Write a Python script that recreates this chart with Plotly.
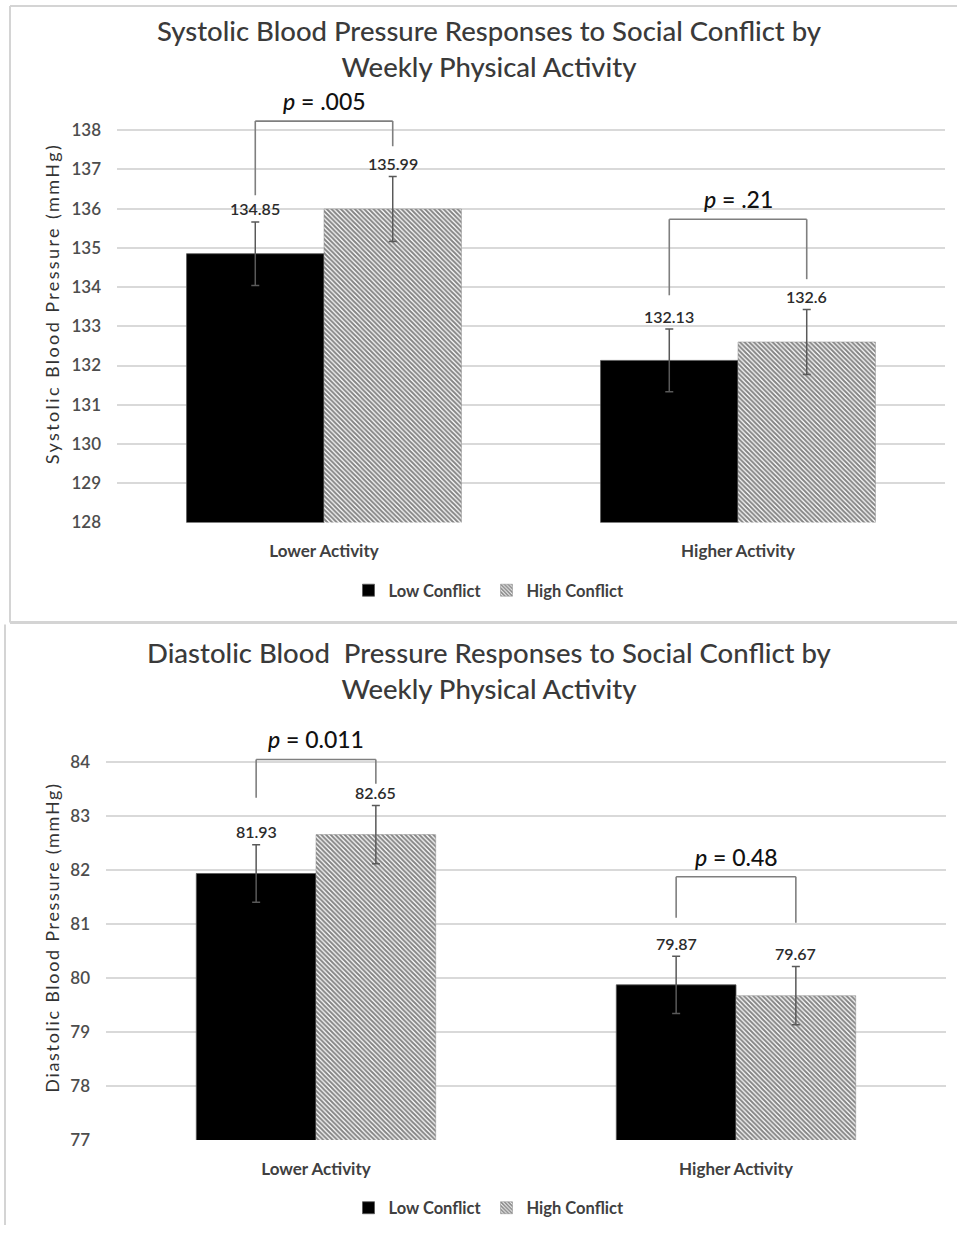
import plotly.graph_objects as go

# ---------------- data ----------------
categories = ["Lower Activity", "Higher Activity"]
series_names = ["Low Conflict", "High Conflict"]

sbp_low = [134.85, 132.13]
sbp_high = [135.99, 132.6]
sbp_low_err = [0.81, 0.80]
sbp_high_err = [0.83, 0.83]
sbp_p = [".005", ".21"]
sbp_ticks = [128, 129, 130, 131, 132, 133, 134, 135, 136, 137, 138]

dbp_low = [81.93, 79.87]
dbp_high = [82.65, 79.67]
dbp_low_err = [0.53, 0.53]
dbp_high_err = [0.54, 0.54]
dbp_p = ["0.011", "0.48"]
dbp_ticks = [77, 78, 79, 80, 81, 82, 83, 84]

# significance bracket levels (data units): top bar, then leg ends (low, high)
sbp_bracket_top = [138.23, 135.73]
sbp_bracket_ends = [(136.34, 137.59), (133.79, 134.20)]
dbp_bracket_top = [84.04, 81.87]
dbp_bracket_ends = [(83.33, 83.59), (81.11, 81.02)]

sbp_title = "Systolic Blood Pressure Responses to Social Conflict by<br>Weekly Physical Activity"
dbp_title = "Diastolic Blood  Pressure Responses to Social Conflict by<br>Weekly Physical Activity"
sbp_ytitle = "Systolic Blood Pressure (mmHg)"
dbp_ytitle = "Diastolic Blood Pressure (mmHg)"

# ---------------- style ----------------
W, H = 957, 1235
KY = 1.009  # vertical correction observed in the renderer
FONT = "Lato, Carlito, Calibri, sans-serif"
DARK = "#404040"
TICK = "#4d4d4d"
GRID = "#d9d9d9"
ERR = "#595959"
BRK = "#7f7f7f"


def py(px):
    return 1 - px * KY / H


def px_x(px):
    return px / W


fig = go.Figure()


def add_panel(xs, ys, low, high, lerr, herr, half_w, legend_name,
              p_vals, br_top, br_ends):
    fig.add_trace(go.Bar(
        x=categories, y=low, xaxis=xs, yaxis=ys, name=series_names[0],
        width=half_w, offset=-half_w, legend=legend_name,
        marker=dict(color="black", line=dict(color="#595959", width=0.8)),
        error_y=dict(type="data", array=lerr, color=ERR, thickness=1.5, width=4),
    ))
    fig.add_trace(go.Bar(
        x=categories, y=high, xaxis=xs, yaxis=ys, name=series_names[1],
        width=half_w, offset=0, legend=legend_name,
        marker=dict(color="white", line=dict(color="#8c8c8c", width=0.5),
                    pattern=dict(shape="\\", fgcolor="#0a0a0a", bgcolor="white",
                                 size=3.3, solidity=0.62)),
        error_y=dict(type="data", array=herr, color=ERR, thickness=1.5, width=4),
    ))
    for i in range(len(categories)):
        xl = i - half_w / 2
        xh = i + half_w / 2
        # value labels
        for xv, v, e in ((xl, low[i], lerr[i]), (xh, high[i], herr[i])):
            fig.add_annotation(x=xv, y=v + e, xref=xs, yref=ys, text=f"{v}",
                               showarrow=False, yanchor="middle", yshift=13,
                               font=dict(family=FONT, size=16, color="#2b2b2b",
                                         weight=600))
        # bracket
        e0, e1 = br_ends[i]
        t = br_top[i]
        for (a0, b0, a1, b1) in ((xl, e0, xl, t), (xl, t, xh, t), (xh, t, xh, e1)):
            fig.add_shape(type="line", xref=xs, yref=ys, x0=a0, y0=b0, x1=a1, y1=b1,
                          line=dict(color=BRK, width=1.6))
        fig.add_annotation(x=i, y=t, xref=xs, yref=ys,
                           text=f"<i>p</i> = {p_vals[i]}", showarrow=False,
                           yanchor="middle", yshift=20,
                           font=dict(family=FONT, size=23, color="#111111",
                                     weight=500))


add_panel("x", "y", sbp_low, sbp_high, sbp_low_err, sbp_high_err, 0.332,
          "legend", sbp_p, sbp_bracket_top, sbp_bracket_ends)
add_panel("x2", "y2", dbp_low, dbp_high, dbp_low_err, dbp_high_err, 0.285,
          "legend2", dbp_p, dbp_bracket_top, dbp_bracket_ends)

axis_common = dict(showline=False, zeroline=False, ticks="")
ytickfont = dict(family=FONT, size=17, color=TICK, weight=600)
xtickfont = dict(family=FONT, size=17, color=DARK, weight="bold")
legfont = dict(family=FONT, size=16.5, color=DARK, weight="bold")

fig.update_layout(
    width=W, height=H,
    margin=dict(l=0, r=0, t=0, b=0),
    paper_bgcolor="white", plot_bgcolor="white",
    showlegend=True,
    xaxis=dict(domain=[px_x(117), px_x(945)], anchor="y", type="category",
               showgrid=False, ticklabelstandoff=17, tickfont=xtickfont,
               range=[-0.5, 1.5], **axis_common),
    yaxis=dict(domain=[py(522), py(106.5)], anchor="x", range=[128, 138.6],
               tickvals=sbp_ticks, showgrid=True, gridcolor=GRID, gridwidth=1.5,
               ticklabelstandoff=15, tickfont=ytickfont, **axis_common),
    xaxis2=dict(domain=[px_x(106), px_x(946)], anchor="y2", type="category",
                showgrid=False, ticklabelstandoff=17, tickfont=xtickfont,
                range=[-0.5, 1.5], **axis_common),
    yaxis2=dict(domain=[py(1139), py(744.8)], anchor="x2", range=[77, 84.3],
                tickvals=dbp_ticks, showgrid=True, gridcolor=GRID, gridwidth=1.5,
                ticklabelstandoff=15, tickfont=ytickfont, **axis_common),
    legend=dict(orientation="h", x=px_x(489), xanchor="center", y=py(590),
                yanchor="middle", font=legfont, itemwidth=30,
                bgcolor="rgba(0,0,0,0)"),
    legend2=dict(orientation="h", x=px_x(489), xanchor="center", y=py(1207),
                 yanchor="middle", font=legfont, itemwidth=30,
                 bgcolor="rgba(0,0,0,0)"),
)

# titles
fig.add_annotation(x=px_x(489), y=py(48), xref="paper", yref="paper", text=sbp_title,
                   showarrow=False, xanchor="center", yanchor="middle",
                   font=dict(family=FONT, size=27.5, color="#3a3a3a", weight=500))
fig.add_annotation(x=px_x(489), y=py(670), xref="paper", yref="paper", text=dbp_title,
                   showarrow=False, xanchor="center", yanchor="middle",
                   font=dict(family=FONT, size=27.5, color="#3a3a3a", weight=500))
# y-axis titles
fig.add_annotation(x=px_x(52), y=py(304), xref="paper", yref="paper",
                   text=f'<span style="letter-spacing:2.4px">{sbp_ytitle}</span>',
                   showarrow=False, textangle=-90, xanchor="center", yanchor="middle",
                   font=dict(family=FONT, size=18, color="#333333"))
fig.add_annotation(x=px_x(52), y=py(937), xref="paper", yref="paper",
                   text=f'<span style="letter-spacing:1.7px">{dbp_ytitle}</span>',
                   showarrow=False, textangle=-90, xanchor="center", yanchor="middle",
                   font=dict(family=FONT, size=18, color="#333333"))

# panel borders
BORDER = dict(color="#d4d4d4", width=2)
fig.add_shape(type="line", xref="paper", yref="paper", x0=px_x(10), x1=1, y0=py(6), y1=py(6), line=BORDER)
fig.add_shape(type="line", xref="paper", yref="paper", x0=px_x(10), x1=px_x(10), y0=py(6), y1=py(622), line=BORDER)
fig.add_shape(type="line", xref="paper", yref="paper", x0=px_x(10), x1=1, y0=py(622), y1=py(622),
              line=dict(color="#d4d4d4", width=3))
fig.add_shape(type="line", xref="paper", yref="paper", x0=px_x(5), x1=px_x(5), y0=py(624), y1=0, line=BORDER)

fig.write_html("out.html", config={"displayModeBar": False},
               post_script="document.body.style.margin='0';")
